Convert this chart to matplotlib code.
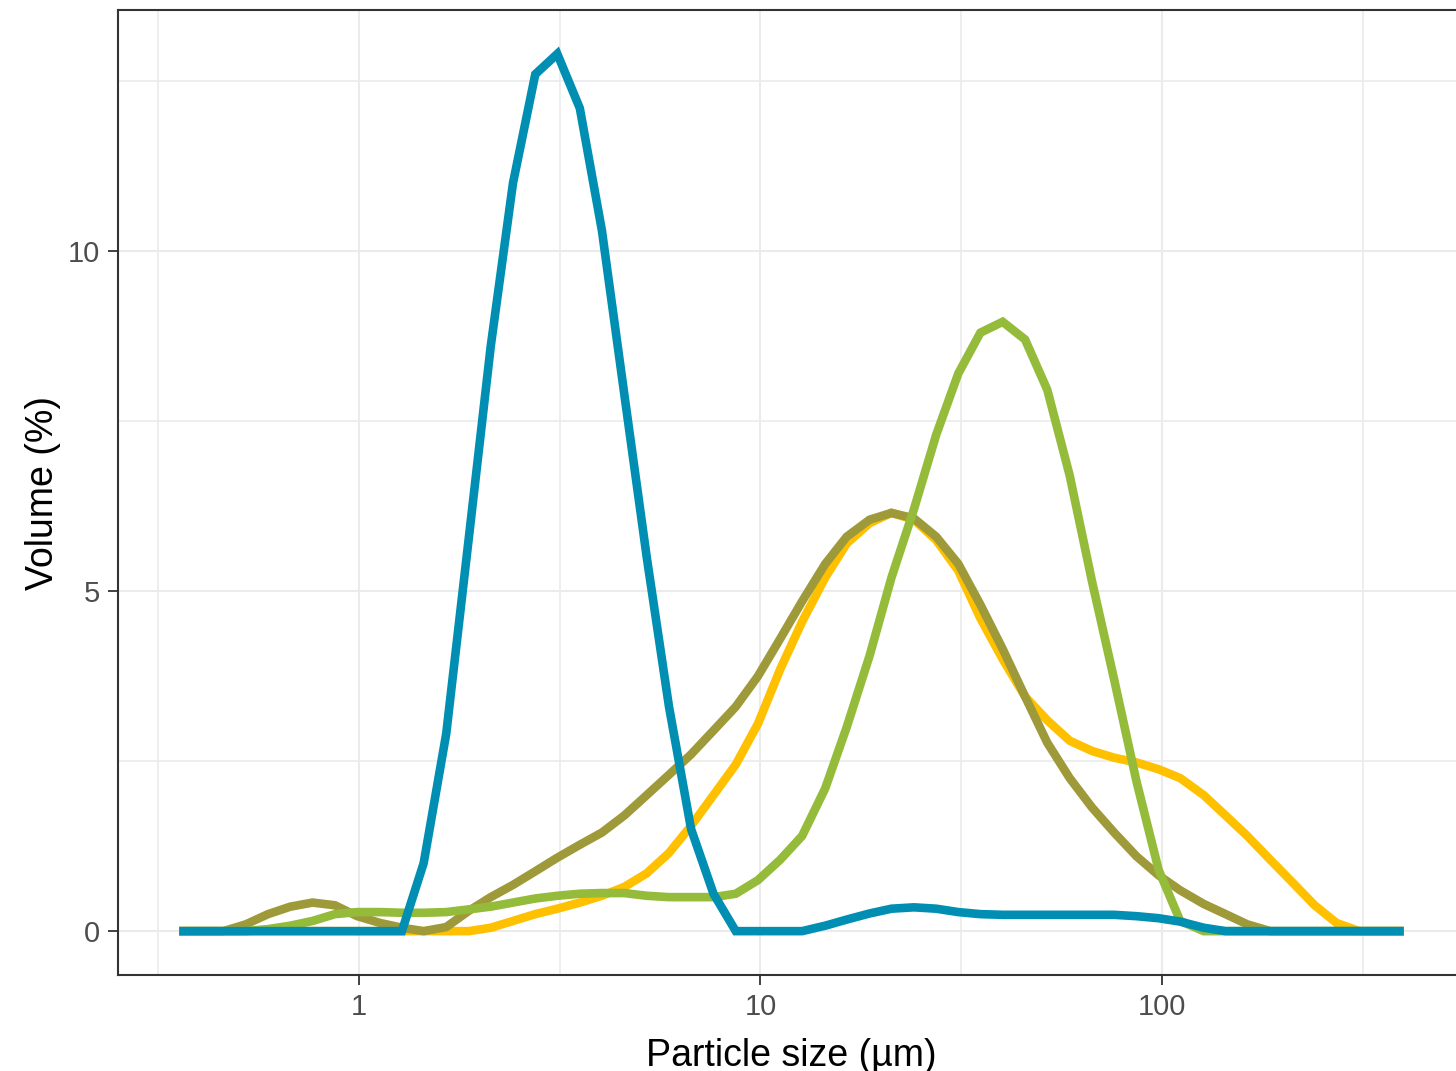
import numpy as np
import matplotlib.pyplot as plt
from matplotlib.ticker import FixedLocator, NullFormatter

plt.rcParams['font.family'] = ['Liberation Sans', 'DejaVu Sans']

# particle size classes (um)
sizes = [0.357, 0.405, 0.460, 0.523, 0.594, 0.675, 0.767, 0.872, 0.991, 1.13,
         1.28, 1.45, 1.65, 1.88, 2.13, 2.42, 2.75, 3.12, 3.55, 4.03,
         4.58, 5.21, 5.92, 6.72, 7.64, 8.68, 9.86, 11.2, 12.7, 14.5,
         16.4, 18.7, 21.2, 24.1, 27.4, 31.1, 35.3, 40.1, 45.6, 51.8,
         58.9, 66.9, 76.0, 86.4, 98.1, 111, 127, 144, 163, 186,
         211, 240, 272, 310, 352, 400]

vol_yellow = [0, 0, 0, 0, 0, 0, 0, 0, 0, 0,
              0, 0, 0, 0, 0.05, 0.15, 0.25, 0.33, 0.42, 0.52,
              0.65, 0.85, 1.15, 1.55, 2.0, 2.45, 3.05, 3.85, 4.55, 5.2,
              5.7, 6.0, 6.15, 6.05, 5.75, 5.3, 4.6, 4.0, 3.45, 3.1,
              2.8, 2.65, 2.55, 2.48, 2.38, 2.25, 2.0, 1.7, 1.4, 1.05,
              0.72, 0.38, 0.12, 0, 0, 0]

vol_olive = [0, 0, 0, 0.1, 0.25, 0.36, 0.42, 0.38, 0.22, 0.12,
             0.05, 0, 0.06, 0.3, 0.5, 0.68, 0.88, 1.08, 1.27, 1.45,
             1.7, 2.0, 2.3, 2.6, 2.95, 3.3, 3.75, 4.3, 4.85, 5.4,
             5.8, 6.05, 6.15, 6.07, 5.8, 5.4, 4.8, 4.15, 3.45, 2.77,
             2.25, 1.82, 1.45, 1.1, 0.82, 0.6, 0.4, 0.25, 0.1, 0,
             0, 0, 0, 0, 0, 0]

vol_green = [0, 0, 0, 0, 0.03, 0.08, 0.15, 0.25, 0.28, 0.28,
             0.27, 0.27, 0.28, 0.32, 0.36, 0.42, 0.48, 0.52, 0.55, 0.56,
             0.56, 0.52, 0.5, 0.5, 0.5, 0.55, 0.75, 1.05, 1.4, 2.1,
             3.0, 4.05, 5.2, 6.2, 7.3, 8.2, 8.8, 8.96, 8.7, 7.96,
             6.7, 5.15, 3.7, 2.2, 0.9, 0.15, 0, 0, 0, 0,
             0, 0, 0, 0, 0, 0]

vol_blue = [0, 0, 0, 0, 0, 0, 0, 0, 0, 0,
            0, 1.0, 2.9, 5.8, 8.6, 11.0, 12.6, 12.9, 12.1, 10.3,
            7.9, 5.5, 3.3, 1.5, 0.55, 0, 0, 0, 0, 0.08,
            0.17, 0.26, 0.33, 0.35, 0.33, 0.28, 0.25, 0.24, 0.24, 0.24,
            0.24, 0.24, 0.24, 0.22, 0.19, 0.14, 0.05, 0, 0, 0,
            0, 0, 0, 0, 0, 0]

series = [(vol_yellow, '#FFC000'), (vol_olive, '#9E9A3A'),
          (vol_green, '#95BB3A'), (vol_blue, '#008FB3')]

fig = plt.figure(figsize=(14.56, 10.71), dpi=100)
W, H = 1456, 1071
left, right, top, bottom = 118, 1465, 10, 975
ax = fig.add_axes([left / W, 1 - bottom / H, (right - left) / W, (bottom - top) / H])

for vals, col in series:
    ax.plot(sizes, vals, color=col, lw=6.2, solid_joinstyle='miter', solid_capstyle='butt')

ax.set_xscale('log')
lo, hi = np.log10(sizes[0]), np.log10(sizes[-1])
pad = 0.05 * (hi - lo)
ax.set_xlim(10 ** (lo - pad), 10 ** (hi + pad))
ymax = max(vol_blue)
ax.set_ylim(-0.05 * ymax, ymax * 1.05)

ax.xaxis.set_major_locator(FixedLocator([1, 10, 100]))
ax.set_xticklabels(['1', '10', '100'])
ax.xaxis.set_minor_locator(FixedLocator([10 ** -0.5, 10 ** 0.5, 10 ** 1.5, 10 ** 2.5]))
ax.xaxis.set_minor_formatter(NullFormatter())
ax.yaxis.set_major_locator(FixedLocator([0, 5, 10]))
ax.yaxis.set_minor_locator(FixedLocator([2.5, 7.5, 12.5]))

ax.grid(which='major', color='#EBEBEB', lw=1.5)
ax.grid(which='minor', color='#EBEBEB', lw=1.2)
ax.set_axisbelow(True)
ax.tick_params(which='major', length=7, width=1.3, color='#333333',
               labelsize=21, labelcolor='#4D4D4D', pad=6)
ax.tick_params(which='minor', length=0)
for s in ax.spines.values():
    s.set_color('#333333')
    s.set_linewidth(1.5)

ax.set_xlabel('Particle size (µm)', fontsize=27, color='black', labelpad=12)
ax.set_ylabel('Volume (%)', fontsize=27, color='black', labelpad=5)

fig.savefig('out.png', dpi=100)
